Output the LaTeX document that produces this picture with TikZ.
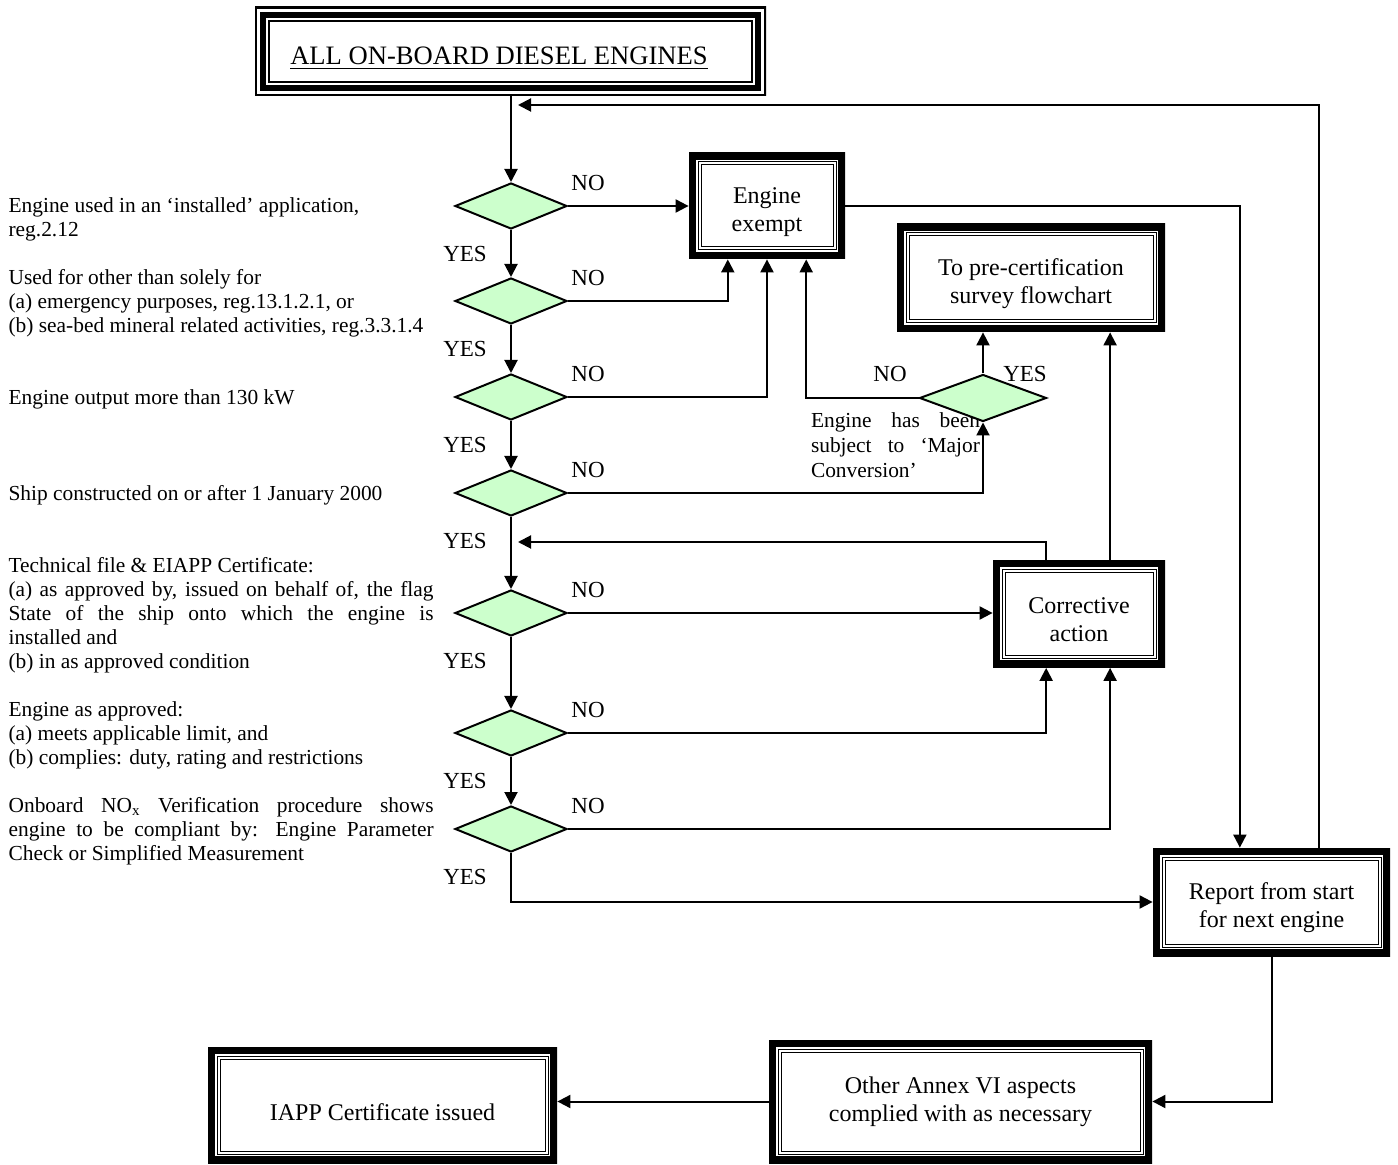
\documentclass[tikz,border=0pt]{standalone}
\usepackage{fontspec}
\setmainfont{Liberation Serif}
\usetikzlibrary{arrows.meta,shapes.geometric,positioning,calc}
\definecolor{decisionGreen}{RGB}{204,255,204}
\newcommand{\boxstrut}[1]{\rule{0pt}{#1}}

\begin{document}
\begin{tikzpicture}
[x=0.5pt, y=-0.5pt,%
  lineDecorate/.style={line width=1pt},
  arrowDecorate/.style={lineDecorate,-{Triangle[length=6.5pt,width=6.5pt]}},
  decisionDecorate/.style={shape=diamond,draw,line width=1pt,fill=decisionGreen,
    inner sep=0pt,minimum width=56pt,minimum height=23pt},
  labelDecorate/.style={inner sep=0pt,font=\fontsize{11.5}{13}\selectfont},
  noteDecorate/.style={inner sep=0pt,text width=212.5pt,align=justify,
    font=\fontsize{10.7}{12}\selectfont},
  questionDecorate/.style={noteDecorate,yshift=-1.2pt},
  boxDecorate/.style={shape=rectangle,fill=white,inner sep=0pt,align=center,
    font=\fontsize{12}{14}\selectfont,
    path picture={
      \draw[line width=7pt] (path picture bounding box.south west)
        rectangle (path picture bounding box.north east);
      \foreach \d in {4.5pt,6pt}
        \draw[line width=0.5pt] ([shift={(\d,\d)}]path picture bounding box.south west)
          rectangle ([shift={(-\d,-\d)}]path picture bounding box.north east);
    }},
  titleDecorate/.style={shape=rectangle,fill=white,inner sep=0pt,
    font=\fontsize{13.3}{16}\selectfont,
    path picture={
      \draw[line width=2pt] (path picture bounding box.south west)
        rectangle (path picture bounding box.north east);
      \draw[line width=3pt] ([shift={(4pt,4pt)}]path picture bounding box.south west)
        rectangle ([shift={(-4pt,-4pt)}]path picture bounding box.north east);
      \draw[line width=1pt] ([shift={(7pt,7pt)}]path picture bounding box.south west)
        rectangle ([shift={(-7pt,-7pt)}]path picture bounding box.north east);
    }}]
\useasboundingbox (0,0) rectangle (1398,1165);
%% boxes
\node (top) at (510.5,51.5) [titleDecorate,minimum width=255.5pt,minimum height=44.5pt]
  {\boxstrut{15.5pt}\underline{ALL ON-BOARD DIESEL ENGINES}\kern11.5pt};
\node (exempt) at (767,206) [boxDecorate,minimum width=78pt,minimum height=53pt]
  {\boxstrut{14.5pt}Engine\\exempt};
\node (precert) at (1031,278) [boxDecorate,minimum width=134pt,minimum height=54pt]
  {\boxstrut{14.5pt}To pre-certification\\survey flowchart};
\node (correct) at (1079,614) [boxDecorate,minimum width=86pt,minimum height=53.5pt]
  {\boxstrut{13.5pt}Corrective\\action};
\node (report) at (1271.5,902) [boxDecorate,minimum width=118.5pt,minimum height=54pt]
  {\boxstrut{14.5pt}Report from start\\for next engine};
\node (annex) at (960.5,1101.5) [boxDecorate,minimum width=191.5pt,minimum height=61.5pt]
  {Other Annex VI aspects\\complied with as necessary};
\node (iapp) at (382.5,1105) [boxDecorate,minimum width=174.5pt,minimum height=58pt]
  {\boxstrut{16pt}IAPP Certificate issued};
%% decisions
\foreach \nodename/\y in {d1/206, d2/301, d3/397, d4/493, d5/613, d6/733, d7/829}
{
  \node (\nodename) at (511,\y) [decisionDecorate] {};
  \node (no\nodename) at (588,\y-23) [labelDecorate] {NO};
  \node (yes\nodename) at (465,\y+48) [labelDecorate] {YES};
}
\node (mctext) at (895.5,445) [noteDecorate,text width=84.5pt,
  font=\fontsize{10.7}{12.5}\selectfont]
  {Engine has been\linebreak subject to ‘Major\linebreak Conversion’};
\node (mc) at (983,398) [decisionDecorate,minimum width=63.5pt,minimum height=23.5pt] {};
\node (nomc) at (890,374) [labelDecorate] {NO};
\node (yesmc) at (1025,374) [labelDecorate] {YES};
%% questions
\node (q1) [questionDecorate,left=10pt of d1,yshift=-5.5pt]
  {Engine used in an ‘installed’ application,\\reg.2.12};
\node (q2) [questionDecorate,left=10pt of d2]
  {Used for other than solely for\\(a) emergency purposes, reg.13.1.2.1, or\\(b) sea-bed mineral related activities, reg.3.3.1.4};
\node (q3) [questionDecorate,left=10pt of d3] {Engine output more than 130 kW};
\node (q4) [questionDecorate,left=10pt of d4] {Ship constructed on or after 1 January 2000};
\node (q5) [questionDecorate,left=10pt of d5]
  {Technical file \& EIAPP Certificate:\\(a) as approved by, issued on behalf of, the flag\linebreak
   State of the ship onto which the engine is\linebreak installed and\\(b) in as approved condition};
\node (q6) [questionDecorate,left=10pt of d6]
  {Engine as approved:\\(a) meets applicable limit, and\\(b) complies: duty, rating and restrictions};
\node (q7) [questionDecorate,left=10pt of d7]
  {Onboard NO\textsubscript{x} Verification procedure shows\linebreak
   engine to be compliant by: Engine Parameter\linebreak Check or Simplified Measurement};
%% edges or lines
\coordinate (back1) at (518,105);
\coordinate (back2) at (518,542);
\coordinate (corrA) at ($(correct.north west)!0.31!(correct.north east)$);
\coordinate (corrB) at ($(correct.north west)!0.68!(correct.north east)$);
\draw[arrowDecorate] (d1 |- top.south) -- (d1.north);
\path
\foreach \startnode/\endnode in {d1/d2, d2/d3, d3/d4, d4/d5, d5/d6, d6/d7}
{
  (\startnode) edge[arrowDecorate] (\endnode)
};
\draw[arrowDecorate] (d1.east) -- (exempt.west);
\draw[arrowDecorate] (d2.east) -| ($(exempt.south west)!0.25!(exempt.south east)$);
\draw[arrowDecorate] (d3.east) -| (exempt.south);
\draw[arrowDecorate] (d4.east) -| (mc.south);
\draw[arrowDecorate] (mc.west) -| ($(exempt.south west)!0.75!(exempt.south east)$);
\draw[arrowDecorate] (mc.north) -- (mc.north |- precert.south);
\draw[arrowDecorate] (d5.east) -- (d5.east -| correct.west);
\draw[arrowDecorate] (d6.east) -| (corrA |- correct.south);
\draw[arrowDecorate] (d7.east) -| (corrB |- correct.south);
\draw[arrowDecorate] (corrA) |- (back2);
\draw[arrowDecorate] (corrB) -- (corrB |- precert.south);
\draw[arrowDecorate] (exempt.east) -| ($(report.north west)!0.367!(report.north east)$);
\draw[arrowDecorate] ($(report.north west)!0.7!(report.north east)$) |- (back1);
\draw[arrowDecorate] (d7.south) |- (report.west);
\draw[arrowDecorate] (report.south) |- (annex.east);
\draw[arrowDecorate] (annex.west) -- (annex.west -| iapp.east);
\end{tikzpicture}
\end{document}
